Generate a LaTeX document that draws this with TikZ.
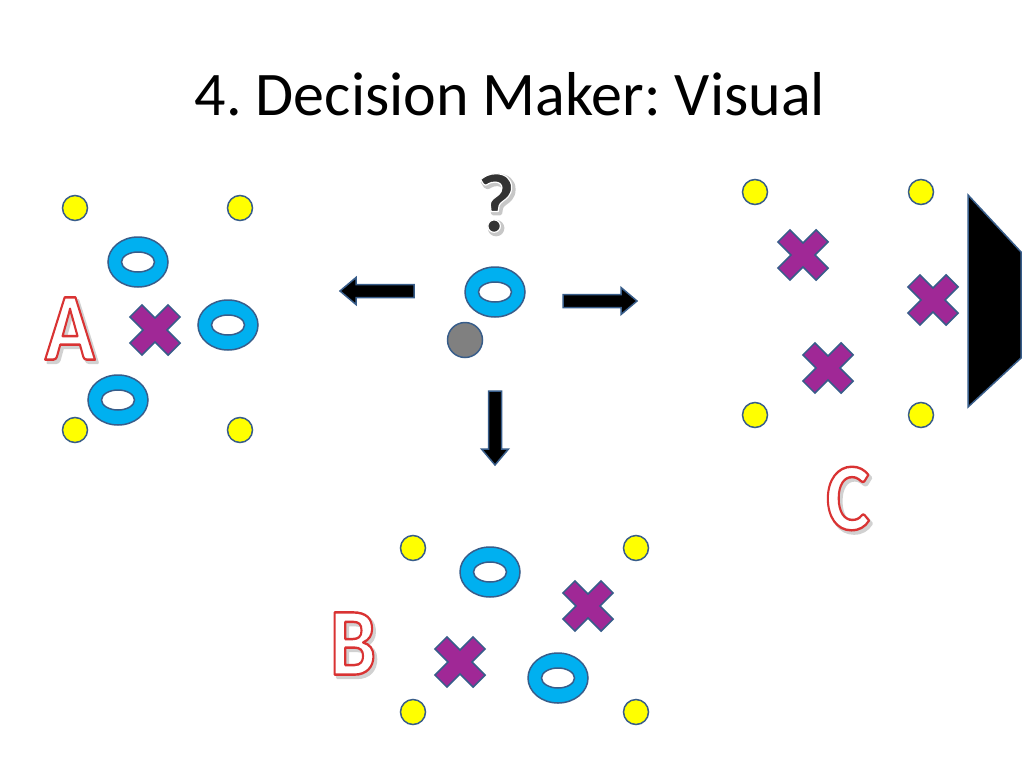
\documentclass[tikz,border=0pt]{standalone}
\usepackage{fontspec}
\setmainfont{Carlito}
\usepackage{tikz}
\usetikzlibrary{positioning}

\definecolor{outl}{RGB}{56,93,138}
\definecolor{dotyellow}{RGB}{255,255,0}
\definecolor{ringblue}{RGB}{0,176,240}
\definecolor{xpurple}{RGB}{160,40,150}

\newcommand\outletter[1]{\scalebox{0.86}[1]{\rlap{\kern3pt\raisebox{-3pt}{\special{pdf:literal direct q}\textcolor{black!18}{\special{pdf:literal direct 2 Tr 3 w 1 j 0.82 0.82 0.82 RG}#1}\special{pdf:literal direct Q}}}%
  \special{pdf:literal direct q}\textcolor{white}{\special{pdf:literal direct 2 Tr 2.4 w 1 J 1 j 0.85 0.2 0.2 RG}#1}\special{pdf:literal direct Q}}}
\newcommand\quizmark{\rlap{\kern2pt\raisebox{-2pt}{\special{pdf:literal direct q}\textcolor{black!25}{\special{pdf:literal direct 2 Tr 4 w 1 j 0.78 0.78 0.78 RG}?}\special{pdf:literal direct Q}}}%
  \special{pdf:literal direct q}\textcolor{black!80}{\special{pdf:literal direct 2 Tr 1.2 w 1 j 1 1 1 RG}?}\special{pdf:literal direct Q}}

\frenchspacing
\begin{document}
\begin{tikzpicture}[
  x=1pt, y=-1pt,
  dot/.style={circle, draw=outl, fill=dotyellow, line width=1.5pt, minimum size=25pt, inner sep=0pt},
  stone/.style={circle, draw=outl, fill=black!50, line width=1.5pt, minimum size=35pt, inner sep=0pt},
  letter/.style={font=\fontsize{96}{96}\bfseries\selectfont, inner sep=0pt},
  ring/.pic={\draw[even odd rule, fill=ringblue, draw=outl, line width=1.5pt]
      (0,0) ellipse [x radius=30pt, y radius=25pt] (0,0) ellipse [x radius=16.5pt, y radius=10pt];},
  cross/.pic={\draw[rotate=45, fill=xpurple, draw=outl, line width=1.5pt]
      (8.5,8.5) -- (27,8.5) -- (27,-8.5) -- (8.5,-8.5) -- (8.5,-27) -- (-8.5,-27) -- (-8.5,-8.5)
      -- (-27,-8.5) -- (-27,8.5) -- (-8.5,8.5) -- (-8.5,27) -- (8.5,27) -- cycle;},
  blockarr/.pic={\draw[fill=black, draw=outl, line width=1.5pt]
      (-37,-6.5) -- (21,-6.5) -- (21,-13.5) -- (37,0) -- (21,13.5) -- (21,6.5) -- (-37,6.5) -- cycle;}
]
\useasboundingbox (0,0) rectangle (1024,768);

\node[anchor=base, font=\fontsize{62}{62}\selectfont] (title) at (510,115) {4. Decision Maker: Visual};

% A
\node[dot] (a1) at (75,208) {};
\node[dot] (a2) at (240,208) {};
\node[dot] (a3) at (75,430) {};
\node[dot] (a4) at (240,430) {};
\pic (ar1) at (138,262) {ring};
\pic (ar2) at (228,325) {ring};
\pic (ar3) at (118,400) {ring};
\pic (ax1) at (155,330) {cross};
\node[letter] (alabel) at (70,330) {\outletter{A}};

% middle
\node[font=\fontsize{84}{84}\bfseries\selectfont, inner sep=0pt] (quest) at (496,204) {\quizmark};
\pic (mr) at (495,292) {ring};
\node[stone] (me) at (465,340) {};
\pic[rotate=180] (toA) at (377,291) {blockarr};
\pic (toC) at (600,301) {blockarr};
\pic[rotate=-90] (toB) at (495,428) {blockarr};

% B
\node[dot] (b1) at (413,548) {};
\node[dot] (b2) at (636,548) {};
\node[dot] (b3) at (413,712) {};
\node[dot] (b4) at (636,712) {};
\pic (br1) at (490,572) {ring};
\pic (br2) at (558,678) {ring};
\pic (bx1) at (588,606) {cross};
\pic (bx2) at (460,662) {cross};
\node[letter] (blabel) at (353,645) {\outletter{B}};

% C
\node[dot] (c1) at (755,192) {};
\node[dot] (c2) at (921,192) {};
\node[dot] (c3) at (755,415) {};
\node[dot] (c4) at (921,415) {};
\pic (cx1) at (803,255) {cross};
\pic (cx2) at (933,300) {cross};
\pic (cx3) at (828,368) {cross};
\draw[fill=black, draw=outl, line width=1.5pt] (968,195) -- (1021,252) -- (1021,358) -- (968,407) -- cycle;
\node[letter] (clabel) at (848,500) {\outletter{C}};
\end{tikzpicture}
\end{document}
